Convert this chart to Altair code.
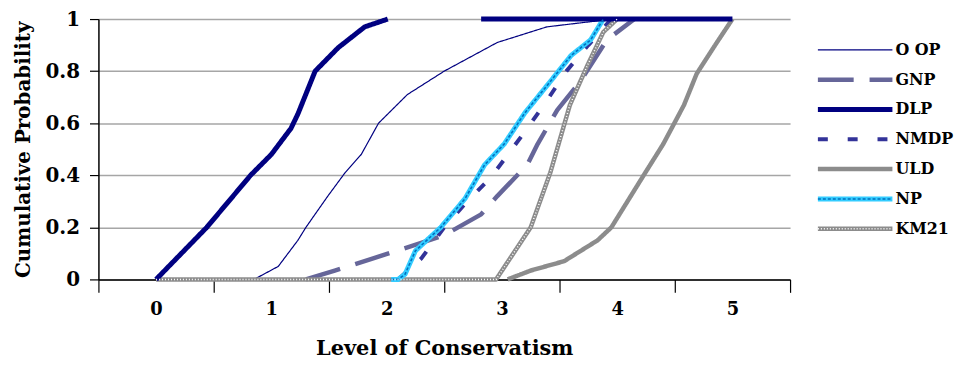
import altair as alt
import pandas as pd

FONT = "'DejaVu Serif', serif"

series_names = ["O OP", "GNP", "DLP", "NMDP", "ULD", "NP", "KM21"]
series_colors = ["#000080", "#666699", "#000080", "#333399", "#8c8c8c", "#33ccff", "#8c8c8c"]
series_dash = [[1, 0], [36, 16], [1, 0], [10, 20], [1, 0], [1, 0], [1, 0]]
series_width = [1.2, 4.5, 5, 4, 4.5, 5, 4.5]

x_ticks = [-0.5, 0, 0.5, 1, 1.5, 2, 2.5, 3, 3.5, 4, 4.5, 5, 5.5]
y_ticks = [0, 0.2, 0.4, 0.6, 0.8, 1]

oop_x = [0.85, 1.06, 1.23, 1.3, 1.49, 1.64, 1.78, 1.93, 2.18, 2.5, 2.96, 3.39, 3.77, 4.0]
oop_y = [0, 0.05, 0.15, 0.2, 0.32, 0.41, 0.48, 0.6, 0.71, 0.8, 0.91, 0.97, 0.99, 1.0]

gnp_x = [1.3, 1.55, 1.87, 2.3, 2.5, 2.82, 2.96, 3.22, 3.31, 3.48, 3.68, 3.91, 4.15]
gnp_y = [0, 0.034, 0.079, 0.14, 0.17, 0.25, 0.32, 0.44, 0.52, 0.65, 0.76, 0.92, 1.0]

dlp_x = [0, 0.44, 0.82, 1.0, 1.17, 1.23, 1.38, 1.58, 1.81, 2.01]
dlp_y = [0, 0.2, 0.4, 0.48, 0.58, 0.635, 0.8, 0.89, 0.97, 1.0]
dlp_top_x = [2.82, 5.0]
dlp_top_y = [1.0, 1.0]

nmdp_x = [2.1, 2.3, 2.5, 2.68, 2.9, 3.02, 3.22, 3.38, 3.56, 3.75, 3.95]
nmdp_y = [0, 0.08, 0.2, 0.29, 0.39, 0.46, 0.58, 0.68, 0.8, 0.9, 1.0]

uld_x = [3.05, 3.25, 3.54, 3.83, 3.95, 4.23, 4.4, 4.58, 4.69, 4.85, 5.0]
uld_y = [0, 0.034, 0.07, 0.15, 0.2, 0.4, 0.52, 0.67, 0.79, 0.9, 1.0]

np_x = [2.04, 2.1, 2.16, 2.25, 2.47, 2.68, 2.85, 3.02, 3.2, 3.42, 3.6, 3.77, 3.88]
np_y = [0, 0.0, 0.02, 0.11, 0.2, 0.31, 0.44, 0.52, 0.64, 0.76, 0.86, 0.92, 1.0]

km21_x = [0, 2.95, 3.25, 3.42, 3.59, 3.74, 3.88, 4.0]
km21_y = [0, 0, 0.2, 0.41, 0.67, 0.82, 0.95, 1.0]

rows = []
def add(name, xs, ys, seg=0):
    for i, (a, b) in enumerate(zip(xs, ys)):
        rows.append({"series": name, "seg": f"{name}-{seg}", "x": a, "y": b, "order": i})

add("O OP", oop_x, oop_y)
add("GNP", gnp_x, gnp_y)
add("NMDP", nmdp_x, nmdp_y)
add("ULD", uld_x, uld_y)
add("KM21", km21_x, km21_y)
add("NP", np_x, np_y)
add("DLP", dlp_x, dlp_y, 0)
add("DLP", dlp_top_x, dlp_top_y, 1)
df = pd.DataFrame(rows)
leg_df = pd.DataFrame({"series": series_names})

color_enc = alt.Color("series:N", scale=alt.Scale(domain=series_names, range=series_colors), legend=None)
dash_enc = alt.StrokeDash("series:N", scale=alt.Scale(domain=series_names, range=series_dash), legend=None)
width_enc = alt.StrokeWidth("series:N", scale=alt.Scale(type="ordinal", domain=series_names, range=series_width), legend=None)

x_enc = alt.X("x:Q",
    scale=alt.Scale(domain=[-0.5, 5.5], nice=False, zero=False),
    axis=alt.Axis(values=x_ticks, grid=False,
                  labelExpr="datum.value % 1 == 0 ? format(datum.value, 'd') : ''",
                  tickOpacity={"condition": {"test": "datum.value % 1 != 0", "value": 1}, "value": 0},
                  tickSize=13, tickColor="black", tickWidth=1.2,
                  domainColor="black", domainWidth=1.5,
                  labelFont=FONT, labelFontSize=18, labelFontWeight="bold", labelColor="black",
                  labelPadding=8, labelOverlap=False, labelFlush=False,
                  title="Level of Conservatism", titleFont=FONT, titleFontSize=21,
                  titleFontWeight="bold", titleColor="black", titlePadding=20))

y_enc = alt.Y("y:Q",
    scale=alt.Scale(domain=[0, 1], nice=False),
    axis=alt.Axis(values=y_ticks, format="~g", grid=True, gridColor="#a6a6a6", gridWidth=1.5,
                  tickSize=9, tickColor="black", tickWidth=1.2,
                  domainColor="black", domainWidth=1.5,
                  labelFont=FONT, labelFontSize=20, labelFontWeight="bold", labelColor="black",
                  labelPadding=10,
                  title="Cumulative Probability", titleFont=FONT, titleFontSize=20,
                  titleFontWeight="bold", titleColor="black", titlePadding=12))

base = alt.Chart(df)

lines = base.mark_line(clip=False, strokeCap="butt", strokeJoin="round").encode(
    x=x_enc, y=y_enc, color=color_enc, strokeDash=dash_enc, strokeWidth=width_enc,
    detail="seg:N", order="order:Q",
)

np_overlay = base.transform_filter(alt.datum.series == "NP").mark_line(
    color="#0070c0", strokeWidth=1.6, strokeDash=[3, 2]).encode(
    x="x:Q", y="y:Q", order="order:Q")

km_overlay = base.transform_filter(alt.datum.series == "KM21").mark_line(
    color="white", strokeWidth=1.5, strokeDash=[1, 2]).encode(
    x="x:Q", y="y:Q", order="order:Q")

# legend drawn as its own layer, rows placed by a point scale
leg_y = alt.Y("series:N", scale=alt.Scale(type="point", domain=series_names, range=[31, 211], padding=0), axis=None)
leg_base = alt.Chart(leg_df)
leg_sym = leg_base.mark_rule(strokeCap="butt").encode(
    x=alt.value(724), x2=alt.value(799), y=leg_y,
    color=color_enc, strokeDash=dash_enc, strokeWidth=width_enc)
leg_np = leg_base.transform_filter(alt.datum.series == "NP").mark_rule(
    color="#0070c0", strokeWidth=1.6, strokeDash=[3, 2]).encode(
    x=alt.value(724), x2=alt.value(799), y=leg_y)
leg_km = leg_base.transform_filter(alt.datum.series == "KM21").mark_rule(
    color="white", strokeWidth=1.5, strokeDash=[1, 2]).encode(
    x=alt.value(724), x2=alt.value(799), y=leg_y)
leg_txt = leg_base.mark_text(align="left", baseline="middle", font=FONT, fontSize=16,
                             fontWeight="bold", color="black").encode(
    x=alt.value(802), y=leg_y, text="series:N")

legend_layer = alt.layer(leg_sym, leg_np, leg_km, leg_txt)

chart = alt.layer(alt.layer(lines, np_overlay, km_overlay), legend_layer).resolve_scale(
    y="independent"
).properties(
    width=696, height=262,
    padding={"left": 5, "top": 0, "right": 5, "bottom": 5},
    background="white",
).configure_view(stroke=None)

chart.save("out.html", embed_options={"renderer": "svg", "actions": False})
